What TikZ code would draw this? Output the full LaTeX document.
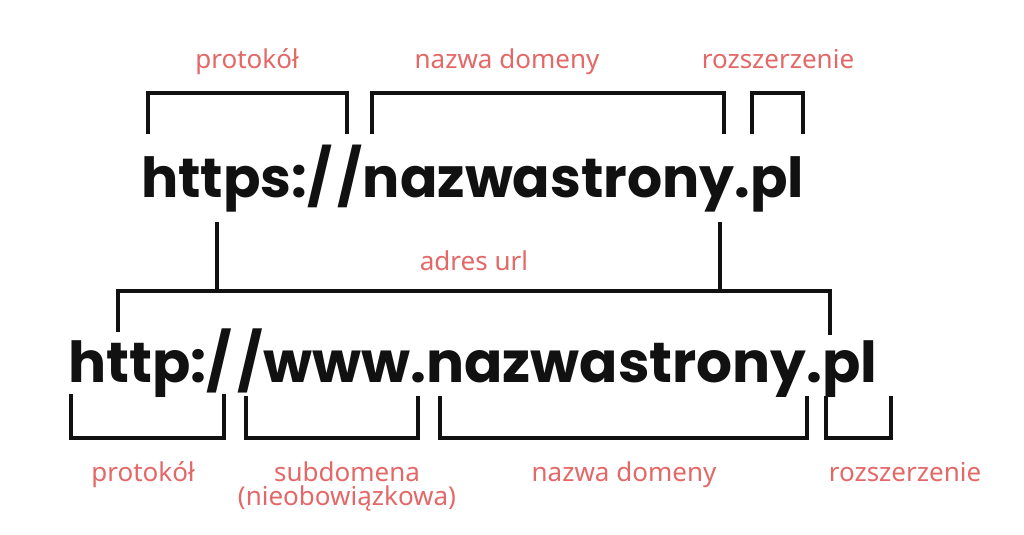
\documentclass[tikz,border=0pt]{standalone}
\usepackage{fontspec}
\setmainfont{Noto Sans}
\newfontfamily\urlfont{Poppins}
\definecolor{lab}{RGB}{228,104,104}
\definecolor{ink}{RGB}{17,17,17}
\tikzset{
  lbl/.style={text=lab, font=\fontsize{19.5}{22}\selectfont, inner sep=0pt, anchor=base},
  brk/.style={draw=ink, line width=2.3pt, line cap=butt, line join=miter},
  urltext/.style={inner sep=0pt, anchor=base west, text=ink}
}
\begin{document}
\begin{tikzpicture}[x=0.75pt,y=-0.75pt]
\useasboundingbox[fill=white] (0,0) rectangle (1024,535);
% URLs
\node[urltext] (u1) at (141,197) {\resizebox{497pt}{!}{\urlfont\bfseries https:/\kern0.1em/nazwastrony.pl}};
\node[urltext] (u2) at (68,382) {\resizebox{607pt}{!}{\urlfont\bfseries http:/\kern0.1em/www.nazwastrony.pl}};
% top labels
\node[lbl] (t1) at (247,69) {protokół};
\node[lbl] (t2) at (507,69) {nazwa domeny};
\node[lbl] (t3) at (778,69) {rozszerzenie};
\node[lbl] (mid) at (474,270) {adres url};
% bottom labels
\node[lbl] (b1) at (143,481) {protokół};
\node[lbl] (b2) at (347,481) {subdomena};
\node[lbl] (b2b) at (347,505) {(nieobowiązkowa)};
\node[lbl] (b3) at (624,481) {nazwa domeny};
\node[lbl] (b4) at (905,481) {rozszerzenie};
% top brackets
\draw[brk] (148,134) -- (148,93) -- (347,93) -- (347,134);
\draw[brk] (372,134) -- (372,93) -- (724,93) -- (724,134);
\draw[brk] (752,134) -- (752,93) -- (803,93) -- (803,134);
% middle connector
\draw[brk] (217,222) -- (217,291);
\draw[brk] (720,222) -- (720,291);
\draw[brk] (118,332) -- (118,291) -- (830,291) -- (830,335);
% bottom brackets
\draw[brk] (71,394) -- (71,438) -- (224,438) -- (224,394);
\draw[brk] (246,396) -- (246,438) -- (418,438) -- (418,396);
\draw[brk] (440,396) -- (440,438) -- (807,438) -- (807,396);
\draw[brk] (826,396) -- (826,438) -- (891,438) -- (891,396);
\end{tikzpicture}
\end{document}
